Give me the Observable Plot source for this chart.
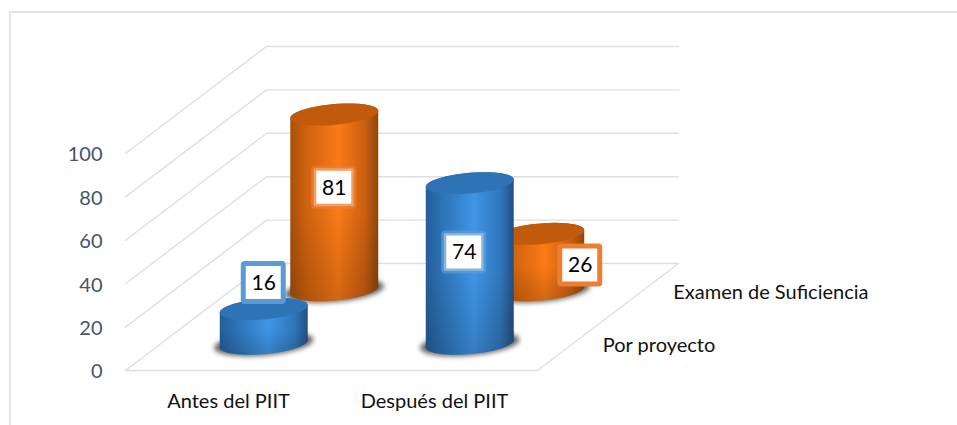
<!DOCTYPE html>
<html><head><meta charset="utf-8">
<script src="https://cdn.jsdelivr.net/npm/d3@7"></script>
<script src="https://cdn.jsdelivr.net/npm/@observablehq/plot@0.6"></script>
<style>
html,body{margin:0;padding:0;background:#fff;overflow:hidden}
#wrap{position:relative;width:957px;height:425px}
#wrap svg{position:absolute;left:0;top:0}
#frame{position:absolute;left:9px;top:11px;right:0;bottom:0;border-left:2px solid #e2e6ea;border-top:2px solid #e2e6ea;pointer-events:none}
</style></head>
<body><div id="wrap"><div id="frame"></div></div>
<script>
// ---- data ----
const categories = ["Antes del PIIT", "Después del PIIT"];
const seriesNames = ["Por proyecto", "Examen de Suficiencia"];
const porProyecto = [16, 74];
const examen = [81, 26];
const yTicks = [0, 20, 40, 60, 80, 100];

// ---- oblique projection, resolved through Plot's x and y scales ----
// u: category axis (0..2), d: depth axis (0..1), v: value
const depthX = 141 / 206, depthY = 107 / 2.17;
const X = (u, d) => u + d * depthX;
const Y = (v, d) => v + d * depthY;
const rU = 0.2015, rD = 0.103;
const phi = Math.atan2(rD * 141, rU * 206);
const arc = (u, d, v, t0, t1, k = 1) =>
  d3.range(0, 49).map(i => {
    const t = t0 + (t1 - t0) * i / 48;
    const dd = d + k * rD * Math.sin(t);
    return {x: X(u + k * rU * Math.cos(t), dd), y: Y(v, dd)};
  });
const ellipse = (u, d, v, k) => arc(u, d, v, 0, 2 * Math.PI, k);
const body = (u, d, v) => [
  ...arc(u, d, 0, phi + Math.PI, phi + 2 * Math.PI),
  ...arc(u, d, v, phi + 2 * Math.PI, phi + 3 * Math.PI)
];
const xy = {x: "x", y: "y", curve: "linear"};

const defs = () => {
  const g = document.createElementNS("http://www.w3.org/2000/svg", "defs");
  g.innerHTML = `
  <linearGradient id="gBlue" x1="0" x2="1" y1="0" y2="0">
    <stop offset="0" stop-color="#255d96"/><stop offset=".18" stop-color="#2c72b5"/>
    <stop offset=".55" stop-color="#3f95e6"/><stop offset=".85" stop-color="#2f76ba"/>
    <stop offset="1" stop-color="#234f80"/></linearGradient>
  <linearGradient id="gOrange" x1="0" x2="1" y1="0" y2="0">
    <stop offset="0" stop-color="#a5500c"/><stop offset=".18" stop-color="#cf620e"/>
    <stop offset=".55" stop-color="#fb7a16"/><stop offset=".85" stop-color="#c95f10"/>
    <stop offset="1" stop-color="#8f4609"/></linearGradient>
  <linearGradient id="gShade" x1="0" x2="0" y1="0" y2="1">
    <stop offset="0" stop-color="#000" stop-opacity="0"/><stop offset=".55" stop-color="#000" stop-opacity="0"/>
    <stop offset="1" stop-color="#000" stop-opacity=".16"/></linearGradient>`;
  return g;
};

// ---- columns, back row first ----
const depths = [0.25, 0.75];
const columns = [
  ...examen.map((v, i) => ({u: i + 0.5, d: depths[1], v, top: "#c25a0c", grad: "url(#gOrange)", edge: "#ed7d31"})),
  ...porProyecto.map((v, i) => ({u: i + 0.5, d: depths[0], v, top: "#2e73b5", grad: "url(#gBlue)", edge: "#5b9bd5"}))
];
const cylinder = c => [
  Plot.line(ellipse(c.u, c.d, 0, 1.13), {...xy, fill: "#4a4a4a", stroke: "none", fillOpacity: 0.85, imageFilter: "blur(2.5px)"}),
  Plot.line(body(c.u, c.d, c.v), {...xy, fill: c.grad, stroke: "none"}),
  Plot.line(body(c.u, c.d, c.v), {...xy, fill: "url(#gShade)", stroke: "none"}),
  Plot.line(ellipse(c.u, c.d, c.v), {...xy, fill: c.top, stroke: "none"})
];

// offsets of the data labels from the mid-height of their column
const labelNudge = {16: [0, -43.5], 81: [0, -14.5], 74: [-5.5, -11], 26: [40, 3.5]};
const labelMark = c => {
  const [dx, dy] = labelNudge[c.v];
  const cx = X(c.u, c.d), cy = Y(c.v / 2, c.d), hw = 20 / 206, hh = 19 / 2.17;
  return [
    Plot.rect([c], {x1: () => cx - hw, x2: () => cx + hw, y1: () => cy - hh, y2: () => cy + hh, dx, dy,
      fill: "white", stroke: c.edge, strokeWidth: 5, rx: 1.5, strokeOpacity: c.d === 0.25 && c.v > 50 || c.v === 81 ? 0.75 : 1}),
    Plot.text([c], {x: () => cx, y: () => cy, text: d => String(d.v), dx, dy, fontSize: 21, fill: "#000", fontFamily: "Lato"})
  ];
};

// ---- walls and floor ----
const wall = yTicks.map(v => [
  {x: X(0, 0), y: Y(v, 0)}, {x: X(0, 1), y: Y(v, 1)}, {x: X(2, 1), y: Y(v, 1)}
]);
const floorEdge = [{x: X(0, 0), y: 0}, {x: X(2, 0), y: 0}, {x: X(2, 1), y: Y(0, 1)}];
const gridStyle = {...xy, stroke: "#dfdfe3", strokeWidth: 1.4};

const chart = Plot.plot({
  width: 957, height: 425,
  marginLeft: 125, marginRight: 420, marginTop: 153, marginBottom: 55,
  style: {background: "transparent", fontFamily: "Lato"},
  x: {domain: [0, 2], axis: null},
  y: {domain: [0, 100], axis: null},
  marks: [
    defs,
    ...wall.map(w => Plot.line(w, gridStyle)),
    Plot.line(floorEdge, gridStyle),
    ...columns.flatMap(cylinder),
    Plot.axisY({ticks: yTicks, tickSize: 0, tickPadding: 23, label: null, fontSize: 20, fill: "#44546a", dy: 1.5, tickFormat: d => String(d)}),
    Plot.text(categories, {x: (d, i) => i + 0.5, y: () => 0, text: d => d, dx: 0, dy: 31, fontSize: 20, fill: "#111", fontFamily: "Lato"}),
    Plot.text(seriesNames, {x: (d, i) => X(2, depths[i]), y: (d, i) => Y(0, depths[i]), text: d => d, textAnchor: "start", dx: 30, dy: 2, fontSize: 20, fill: "#111", fontFamily: "Lato"}),
    ...columns.flatMap(labelMark)
  ]
});
document.getElementById("wrap").prepend(chart);
</script></body></html>
